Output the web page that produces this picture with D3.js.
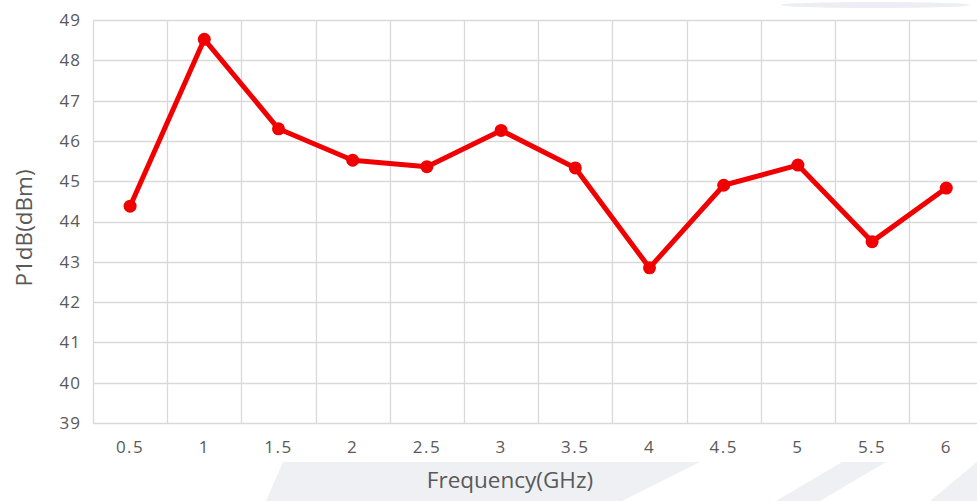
<!DOCTYPE html>
<html>
<head>
<meta charset="utf-8">
<script src="https://cdn.jsdelivr.net/npm/d3@7"></script>
<style>
  html, body { margin: 0; padding: 0; background: #fff; }
  svg { display: block; }
  text { font-family: "Open Sans", sans-serif; }
</style>
</head>
<body>
<div id="chart"></div>
<script>
// chart data
const freqs = ["0.5", "1", "1.5", "2", "2.5", "3", "3.5", "4", "4.5", "5", "5.5", "6"];
const p1dB = [44.38, 48.52, 46.3, 45.52, 45.36, 46.26, 45.33, 42.85, 44.9, 45.4, 43.5, 44.83];
const yTicks = [39, 40, 41, 42, 43, 44, 45, 46, 47, 48, 49];

const width = 977, height = 501;
const plotLeft = 93, plotTop = 20, plotBottom = 423;
const bandW = 74.2;

const svg = d3.select("#chart").append("svg")
  .attr("width", width)
  .attr("height", height);

// faint watermark behind the chart
const wm = svg.append("g").attr("fill", "#eef0f4");
const wmShapes = [
  [[283, 462], [700, 462], [622, 501], [266, 501]],
  [[842, 462], [886, 462], [820, 501], [776, 501]],
  [[977, 462], [977, 501], [930, 501]]
];
wm.selectAll("polygon").data(wmShapes).enter().append("polygon")
  .attr("points", d => d.map(p => p.join(",")).join(" "));
svg.append("ellipse")
  .attr("cx", 875).attr("cy", 5).attr("rx", 95).attr("ry", 3)
  .attr("fill", "#eceef4");

const x = d3.scaleBand()
  .domain(freqs)
  .range([plotLeft, plotLeft + bandW * freqs.length]);

const y = d3.scaleLinear()
  .domain([39, 49])
  .range([plotBottom, plotTop]);

// plot area
svg.append("rect")
  .attr("x", plotLeft).attr("y", plotTop)
  .attr("width", bandW * freqs.length).attr("height", plotBottom - plotTop)
  .attr("fill", "#fff");

// horizontal grid
svg.append("g")
  .selectAll("line")
  .data(yTicks)
  .enter().append("line")
  .attr("x1", plotLeft).attr("x2", plotLeft + bandW * freqs.length)
  .attr("y1", d => Math.round(y(d)) + 0.5)
  .attr("y2", d => Math.round(y(d)) + 0.5)
  .attr("stroke", "#d9d9d9")
  .attr("stroke-width", 1.3);

// vertical grid between categories
const bounds = freqs.map(f => x(f)).concat([x(freqs[freqs.length - 1]) + x.bandwidth()]);
svg.append("g")
  .selectAll("line")
  .data(bounds)
  .enter().append("line")
  .attr("x1", d => Math.round(d) + 0.5).attr("x2", d => Math.round(d) + 0.5)
  .attr("y1", plotTop).attr("y2", plotBottom)
  .attr("stroke", "#d9d9d9")
  .attr("stroke-width", 1.3);

// y axis labels
const yAxis = d3.axisLeft(y).tickValues(yTicks).tickSize(0).tickPadding(12);
svg.append("g")
  .attr("transform", `translate(${plotLeft},0)`)
  .call(yAxis)
  .call(g => g.select(".domain").remove())
  .selectAll("text")
  .attr("fill", "#595959")
  .style("font-size", "17px")
  .style("letter-spacing", "1px")
  .style("font-family", "Open Sans, sans-serif");

// x axis labels
const xAxis = d3.axisBottom(x).tickSize(0).tickPadding(18);
svg.append("g")
  .attr("transform", `translate(0,${plotBottom})`)
  .call(xAxis)
  .call(g => g.select(".domain").remove())
  .selectAll("text")
  .attr("fill", "#595959")
  .style("font-size", "17px")
  .style("letter-spacing", "1.5px")
  .style("font-family", "Open Sans, sans-serif");

// axis titles
svg.append("text")
  .attr("x", 510).attr("y", 488)
  .attr("text-anchor", "middle")
  .attr("fill", "#595959")
  .style("font-size", "22.5px")
  .text("Frequency(GHz)");

svg.append("text")
  .attr("transform", "translate(32,228) rotate(-90)")
  .attr("text-anchor", "middle")
  .attr("fill", "#595959")
  .style("font-size", "22.5px")
  .text("P1dB(dBm)");

// the series
const line = d3.line()
  .x((d, i) => x(freqs[i]) + x.bandwidth() / 2)
  .y(d => y(d));

svg.append("path")
  .datum(p1dB)
  .attr("d", line)
  .attr("fill", "none")
  .attr("stroke", "#f00000")
  .attr("stroke-width", 5)
  .attr("stroke-linejoin", "round");

svg.append("g")
  .selectAll("circle")
  .data(p1dB)
  .enter().append("circle")
  .attr("cx", (d, i) => x(freqs[i]) + x.bandwidth() / 2)
  .attr("cy", d => y(d))
  .attr("r", 6.5)
  .attr("fill", "#f00000");
</script>
</body>
</html>
